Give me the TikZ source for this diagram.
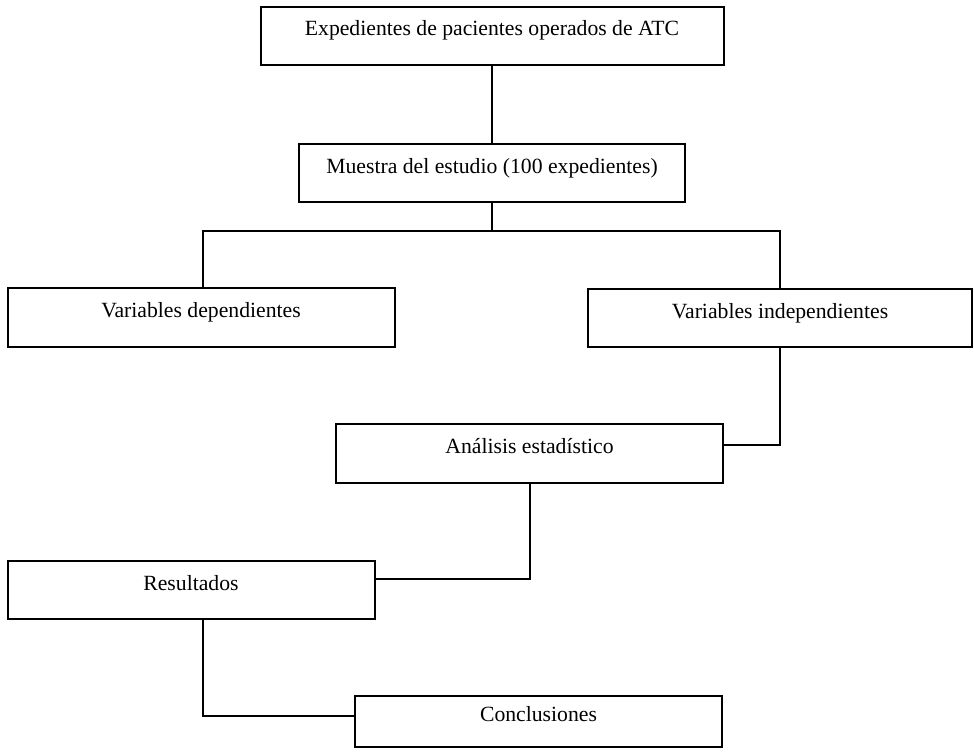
\documentclass[tikz,border=0pt]{standalone}
\usepackage{fontspec}
\setmainfont{Liberation Serif}
\begin{document}
\begin{tikzpicture}[x=1pt,y=-1pt,
  box/.style={draw, line width=2pt, inner sep=0pt, font=\fontsize{21.7}{24}\selectfont,
    text height=13pt, text depth=13pt},
  link/.style={line width=2pt}]
\useasboundingbox (0,0) rectangle (974,752);
\node[box, minimum width=463pt, minimum height=58pt] (b1) at (492,36) {Expedientes de pacientes operados de ATC};
\node[box, minimum width=386pt, minimum height=58pt] (b2) at (492,173) {Muestra del estudio (100 expedientes)};
\node[box, minimum width=387pt, minimum height=59pt] (dep) at (201,317.5) {Variables dependientes};
\node[box, minimum width=384pt, minimum height=58pt] (ind) at (780,318) {Variables independientes};
\node[box, minimum width=387pt, minimum height=59pt] (an) at (529.5,453.5) {Análisis estadístico};
\node[box, minimum width=367pt, minimum height=58pt] (res) at (191,590) {Resultados};
\node[box, minimum width=367pt, minimum height=51pt] (con) at (538.5,721.5) {Conclusiones};
\coordinate (split) at (492,231);
\draw[link] (b1.south) -- (b2.north);
\draw[link] (b2.south) -- (split);
\draw[link] (split) -| ([xshift=2pt]dep.north);
\draw[link] (split) -| (ind.north);
\draw[link] (ind.south) |- ([yshift=8.5pt]an.east);
\draw[link] (an.south) |- ([yshift=11pt]res.east);
\draw[link] ([xshift=12pt]res.south) |- ([yshift=5.5pt]con.west);
\end{tikzpicture}
\end{document}
